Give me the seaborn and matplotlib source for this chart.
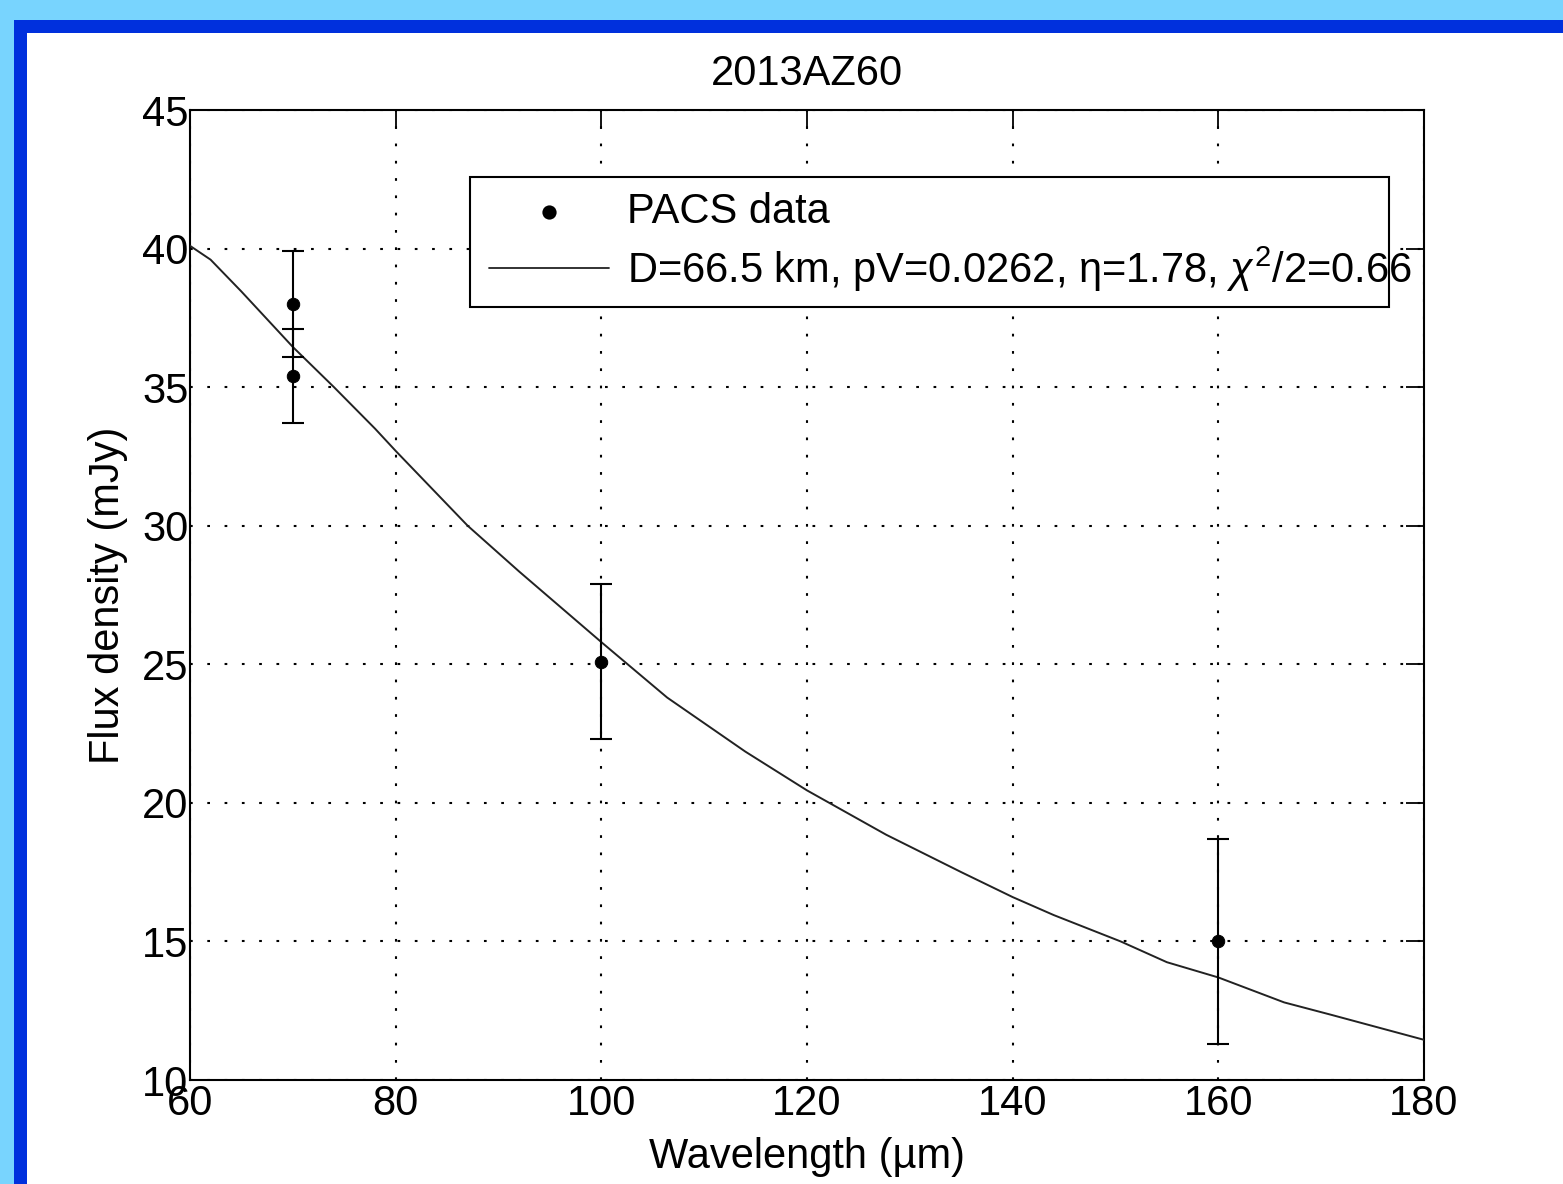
import matplotlib
matplotlib.use('Agg')
import pandas as pd
import matplotlib.pyplot as plt
from matplotlib.patches import Rectangle
import seaborn as sns

# PACS photometry of 2013AZ60
wavelength = [70, 70, 100, 160]
flux = [38.0, 35.4, 25.1, 15.0]
flux_err = [1.9, 1.7, 2.8, 3.7]

# best fit thermal model
model_wl = [60, 62, 65, 70, 74, 78, 80, 87, 92, 100, 106.4, 114, 120, 127.7,
            135, 140, 144, 150.5, 155, 160, 166.4, 171, 180]
model_flux = [40.1, 39.6, 38.45, 36.45, 35.0, 33.5, 32.7, 30.0, 28.35, 25.8,
              23.8, 21.85, 20.45, 18.85, 17.5, 16.6, 15.95, 15.0, 14.25, 13.7,
              12.8, 12.35, 11.45]

xticks = [60, 80, 100, 120, 140, 160, 180]
yticks = [10, 15, 20, 25, 30, 35, 40, 45]

data = pd.DataFrame({'wl': wavelength, 'flux': flux, 'err': flux_err})
model = pd.DataFrame({'wl': model_wl, 'flux': model_flux})

sns.set_style('white')
plt.rcParams['font.family'] = ['Liberation Sans', 'DejaVu Sans']
plt.rcParams['mathtext.fontset'] = 'custom'
plt.rcParams['mathtext.rm'] = 'Liberation Sans'
plt.rcParams['mathtext.it'] = 'Liberation Sans:italic'
plt.rcParams['text.color'] = 'black'
plt.rcParams['axes.labelcolor'] = 'black'

fig = plt.figure(figsize=(15.63, 11.84), dpi=100, facecolor='#78D4FE')
W, H = 1563, 1184
# slide frame: dark blue border, white page
fig.patches.append(Rectangle((14 / W, 0), 1, (H - 20) / H, transform=fig.transFigure,
                             facecolor='#0030DD', edgecolor='none', zorder=-2))
fig.patches.append(Rectangle((27 / W, 0), 1, (H - 33) / H, transform=fig.transFigure,
                             facecolor='white', edgecolor='none', zorder=-1))

ax = fig.add_axes([190 / W, 1 - 1080 / H, (1424 - 190) / W, (1080 - 110) / H])
ax.set_facecolor('white')

sns.lineplot(data=model, x='wl', y='flux', ax=ax, color='#222222', lw=1.4,
             label='D=66.5 km, pV=0.0262, \u03b7=1.78, $\\chi^2$/2=0.66', zorder=3)
ax.errorbar(data['wl'], data['flux'], yerr=data['err'], fmt='none',
            ecolor='black', elinewidth=1.5, capsize=8, capthick=1.5, zorder=3)
sns.scatterplot(data=data, x='wl', y='flux', ax=ax, color='black', s=80,
                edgecolor='black', label='PACS data', zorder=4)

ax.set_xlim(60, 180)
ax.set_ylim(10, 45)
ax.set_xticks(xticks)
ax.set_yticks(yticks)
ax.grid(True, color='black', linestyle=(0, (1.3, 7)), linewidth=1.5)
for s in ax.spines.values():
    s.set_visible(True)
    s.set_color('black')
    s.set_linewidth(1.5)
ax.tick_params(which='both', direction='in', top=True, right=True,
               length=13, width=1.3, labelsize=30, colors='black')
ax.tick_params(axis='x', pad=3)
ax.tick_params(axis='y', pad=1)

ax.set_title('2013AZ60', fontsize=30, pad=18)
ax.set_xlabel('Wavelength (\u00b5m)', fontsize=30, labelpad=9)
ax.set_ylabel('Flux density (mJy)', fontsize=30, labelpad=10)

# legend box drawn separately (text runs past the frame as in the original)
ax.add_patch(Rectangle((0.2269, 0.7969), 0.7447, 0.134, transform=ax.transAxes,
                       facecolor='white', edgecolor='black', lw=1.5, zorder=5))
h, l = ax.get_legend_handles_labels()
leg = ax.legend(h[::-1], l[::-1], loc='upper left', bbox_to_anchor=(0.2305, 0.9309),
                frameon=False, fontsize=30, handlelength=2.87, handletextpad=0.42,
                borderpad=0.36, borderaxespad=0, labelspacing=0.3)
leg.set_zorder(6)
for lh in leg.legend_handles:
    if hasattr(lh, 'set_linewidth'):
        lh.set_linewidth(1.3)

fig.savefig('out.png', dpi=100, facecolor=fig.get_facecolor())
